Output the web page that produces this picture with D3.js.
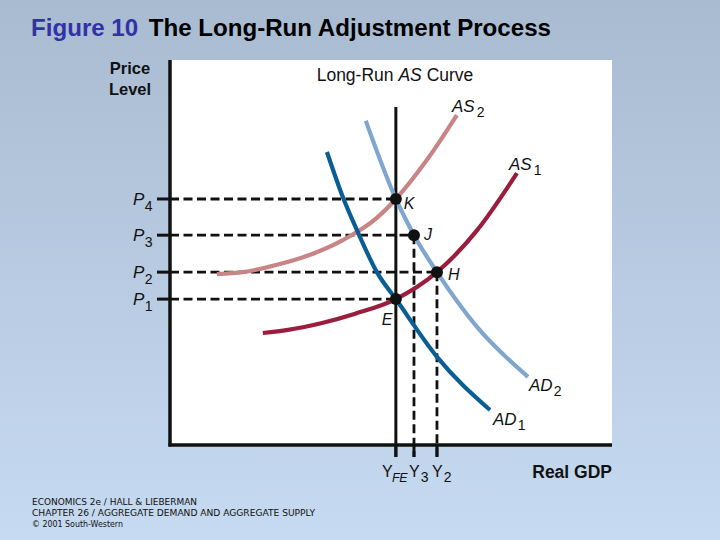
<!DOCTYPE html>
<html><head><meta charset="utf-8">
<script src="https://cdn.jsdelivr.net/npm/d3@7"></script>
<style>body{margin:0;padding:0;overflow:hidden}svg{display:block}</style>
</head><body>
<svg id="c" width="720" height="540"></svg>
<script>
// ---- data (abstract units 0..100) ----
const yLevels = ["P4","P3","P2","P1"];
const yValues = [63.9, 54.5, 44.9, 37.9];
const xLevels = ["FE","3","2"];
const xValues = [51.1, 55.2, 60.4];
const lrasX = 51.1, lrasTop = 87.8;

const as2 = [[10.6,44.4],[16.5,44.9],[24.2,46.8],[31.7,49.4],[39.1,53.2],[46.8,59.0],[51.1,63.9],[58.1,74.0],[64.9,85.7]];
const as1 = [[21.0,29.1],[26.7,29.9],[34.4,31.7],[41.9,34.1],[51.1,37.9],[60.4,44.9],[69.5,55.8],[78.5,70.6]];
const ad1 = [[35.5,76.1],[39.1,64.4],[42.8,54.5],[46.8,44.9],[51.1,37.9],[60.4,22.9],[72.4,9.1]];
const ad2 = [[44.3,84.2],[51.1,63.9],[55.2,54.5],[60.4,44.9],[69.5,30.6],[81.0,17.7]];

const pointNames = ["K","J","H","E"];
const pointX = [51.1, 55.2, 60.4, 51.1];
const pointY = [63.9, 54.5, 44.9, 37.9];

const footer = ["ECONOMICS 2e / HALL & LIEBERMAN","CHAPTER 26 / AGGREGATE DEMAND AND AGGREGATE SUPPLY","© 2001 South-Western"];

// ---- drawing ----
const svg = d3.select("#c");
const F = "Liberation Sans, Arial, Helvetica, sans-serif";
const defs = svg.append("defs");
const g = defs.append("linearGradient").attr("id","bg").attr("x1",0).attr("y1",0).attr("x2",0).attr("y2",1);
g.append("stop").attr("offset","0%").attr("stop-color","#a8bbd1");
g.append("stop").attr("offset","100%").attr("stop-color","#c6daf1");
svg.append("rect").attr("width",720).attr("height",540).attr("fill","url(#bg)");

const x = d3.scaleLinear([0,100],[170,612]);
const y = d3.scaleLinear([0,100],[445,60]);

svg.append("rect").attr("x",x(0)).attr("y",y(100)).attr("width",x(100)-x(0)).attr("height",y(0)-y(100)).attr("fill","#fff");

const t = svg.append("text").attr("x",31).attr("y",36).attr("font-family",F).attr("font-weight","bold").attr("font-size",23);
t.append("tspan").attr("fill","#3232a8").text("Figure 10");
t.append("tspan").attr("fill","#000").attr("dx",10).text("The Long-Run Adjustment Process");
t.attr("textLength",520).attr("lengthAdjust","spacingAndGlyphs");

svg.append("text").attr("x",130).attr("y",74).attr("text-anchor","middle").attr("font-family",F).attr("font-weight","bold").attr("font-size",16.5).attr("fill","#111").text("Price");
svg.append("text").attr("x",130).attr("y",95).attr("text-anchor","middle").attr("font-family",F).attr("font-weight","bold").attr("font-size",16.5).attr("fill","#111").text("Level");
svg.append("text").attr("x",612).attr("y",478).attr("text-anchor","end").attr("font-family",F).attr("font-weight","bold").attr("font-size",17.5).attr("fill","#111").text("Real GDP");

const lr = svg.append("text").attr("x",395).attr("y",81).attr("text-anchor","middle").attr("font-family",F).attr("font-size",17.5).attr("fill","#111");
lr.append("tspan").text("Long-Run ");
lr.append("tspan").attr("font-style","italic").text("AS");
lr.append("tspan").text(" Curve");

const guides = svg.append("g").attr("stroke","#111").attr("stroke-width",2.8).attr("stroke-dasharray","9,4.5").attr("fill","none");
pointNames.forEach((n,i)=>{
  guides.append("line").attr("x1",x(0)).attr("x2",x(pointX[i])).attr("y1",y(pointY[i])).attr("y2",y(pointY[i]));
});
[1,2].forEach(i=>{
  guides.append("line").attr("x1",x(pointX[i])).attr("x2",x(pointX[i])).attr("y1",y(pointY[i])).attr("y2",y(0)+12);
});

svg.append("line").attr("x1",x(lrasX)).attr("x2",x(lrasX)).attr("y1",y(lrasTop)).attr("y2",y(0)+12).attr("stroke","#111").attr("stroke-width",3);
xValues.forEach(v=>{
  svg.append("line").attr("x1",x(v)).attr("x2",x(v)).attr("y1",y(0)).attr("y2",y(0)+12).attr("stroke","#111").attr("stroke-width",3);
});

const line = d3.line().x(d=>x(d[0])).y(d=>y(d[1])).curve(d3.curveMonotoneX);
const curves = [[as2,"#c98585"],[as1,"#9b1d3d"],[ad2,"#7ea6cf"],[ad1,"#0a5e93"]];
curves.forEach(([d,c])=>{
  svg.append("path").attr("d",line(d)).attr("fill","none").attr("stroke",c).attr("stroke-width",4.2).attr("stroke-linecap","butt");
});

svg.append("line").attr("x1",x(0)).attr("x2",x(0)).attr("y1",y(100)).attr("y2",y(0)+1.5).attr("stroke","#111").attr("stroke-width",3.5);
svg.append("line").attr("x1",x(0)-1.5).attr("x2",x(100)).attr("y1",y(0)).attr("y2",y(0)).attr("stroke","#111").attr("stroke-width",3.5);
yValues.forEach(v=>{
  svg.append("line").attr("x1",x(0)-13).attr("x2",x(0)).attr("y1",y(v)).attr("y2",y(v)).attr("stroke","#111").attr("stroke-width",3);
});

pointNames.forEach((n,i)=>{
  svg.append("circle").attr("cx",x(pointX[i])).attr("cy",y(pointY[i])).attr("r",6).attr("fill","#111");
});

function sublabel(px,py,main,sub,opts={}){
  const tx = svg.append("text").attr("x",px).attr("y",py).attr("font-family",F).attr("font-size",opts.size||16).attr("fill","#111");
  tx.append("tspan").attr("font-style",opts.mainItalic===false?"normal":"italic").text(main);
  if(sub){
    tx.append("tspan").attr("dx",opts.gap||1).attr("dy",opts.dy||5).attr("font-size",opts.subSize||14)
      .attr("font-style",opts.subItalic?"italic":"normal").text(sub);
  }
  return tx;
}
yLevels.forEach((lab,i)=>{
  sublabel(133, y(yValues[i])+6, lab[0], lab.slice(1), {size:17, gap:0.5, dy:6});
});
sublabel(382, 477, "Y", xLevels[0], {mainItalic:false, subItalic:true, gap:-0.5, dy:5, size:16, subSize:12.5}).attr("letter-spacing",-0.3);
sublabel(409, 477, "Y", xLevels[1], {mainItalic:false, gap:0, dy:5, size:16, subSize:14});
sublabel(432, 477, "Y", xLevels[2], {mainItalic:false, gap:0, dy:5, size:16, subSize:14});

sublabel(452, 112, "AS", "2", {gap:2, size:17});
sublabel(509, 170, "AS", "1", {gap:2, size:17});
sublabel(529, 391, "AD", "2", {gap:1, size:17});
sublabel(493, 425, "AD", "1", {gap:1, size:17});

const plOff = [[8,10],[10,5],[11,8],[-14,26]];
pointNames.forEach((n,i)=>{
  svg.append("text").attr("x",x(pointX[i])+plOff[i][0]).attr("y",y(pointY[i])+plOff[i][1]).attr("font-family",F).attr("font-style","italic").attr("font-size",16).attr("fill","#111").text(n);
});

const fw = [165, 283, 91];
footer.forEach((s,i)=>{
  svg.append("text").attr("x",32).attr("y",505+i*11).attr("font-family","DejaVu Sans, sans-serif").attr("font-size",8).attr("fill","#111")
    .attr("textLength",fw[i]).attr("lengthAdjust","spacingAndGlyphs").text(s);
});
</script>
</body></html>
